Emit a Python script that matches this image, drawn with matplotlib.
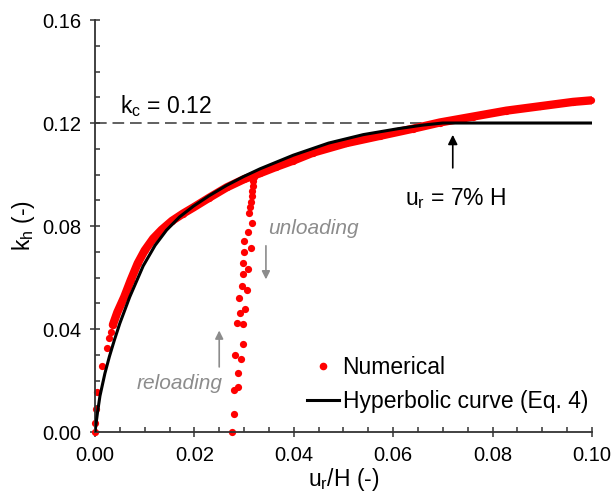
import matplotlib
matplotlib.use('Agg')
import matplotlib.pyplot as plt
from matplotlib.lines import Line2D

plt.rcParams['font.family'] = ['Liberation Sans', 'DejaVu Sans']

# hyperbolic curve (Eq. 4)
hyp_x = [0, 0.0005, 0.001, 0.002, 0.0029, 0.0039, 0.005, 0.007, 0.0097, 0.0121, 0.0144,
         0.017, 0.0198, 0.023, 0.0265, 0.030, 0.0332, 0.0399, 0.047, 0.054, 0.061, 0.066, 0.07, 0.10]
hyp_k = [0, 0.0075, 0.014, 0.0228, 0.0293, 0.0357, 0.0422, 0.0525, 0.0645, 0.0725, 0.0784,
         0.0835, 0.0877, 0.0918, 0.0958, 0.0993, 0.1022, 0.1075, 0.1122, 0.1155, 0.1178, 0.1192, 0.12, 0.12]

# numerical results: first sparse points, dense loading band, unloading/reloading loop
start_x = [0, 0, 0.0002, 0.0005, 0.0015, 0.0025, 0.0029, 0.0032]
start_k = [0, 0.0034, 0.0088, 0.0155, 0.0257, 0.0327, 0.0365, 0.039]

band_x = [0.0036, 0.0045, 0.0059, 0.0072, 0.0086, 0.010, 0.0117, 0.0134, 0.0155, 0.0177,
          0.0198, 0.023, 0.0265, 0.030, 0.0332, 0.0365, 0.0399, 0.0439, 0.0506, 0.0573,
          0.064, 0.0694, 0.0761, 0.0828, 0.0895, 0.0962, 0.0999]
band_k = [0.0416, 0.0465, 0.0525, 0.059, 0.0655, 0.0705, 0.0751, 0.0785, 0.082, 0.0848,
          0.0872, 0.091, 0.095, 0.0982, 0.1005, 0.103, 0.1054, 0.1085, 0.1122, 0.115,
          0.1178, 0.1202, 0.1225, 0.1248, 0.1265, 0.1282, 0.1288]

loop_x = [0.0275, 0.028, 0.0279, 0.0287, 0.0288, 0.0282, 0.0293, 0.0297, 0.0286, 0.0297,
          0.0292, 0.0301, 0.029, 0.0295, 0.0305, 0.0298, 0.0308, 0.0298, 0.030, 0.0313,
          0.030, 0.0307, 0.0315, 0.031, 0.0312, 0.0313, 0.0315, 0.0316, 0.0318, 0.0318, 0.032]
loop_k = [0.0, 0.0069, 0.0165, 0.0174, 0.0228, 0.030, 0.0282, 0.0342, 0.0422, 0.0418,
          0.0463, 0.0476, 0.0522, 0.0567, 0.0551, 0.0614, 0.0632, 0.0657, 0.070, 0.0716,
          0.0742, 0.0777, 0.0813, 0.0849, 0.0875, 0.0895, 0.0915, 0.0935, 0.0955, 0.0975, 0.099]

kc = 0.12
ur_kc = 0.07

fig = plt.figure(figsize=(6.14, 4.98), dpi=100)
ax = fig.add_axes([0.1547, 0.1325, 0.8093, 0.8273])

red = '#ff0000'
ax.plot(band_x, band_k, color=red, lw=6, solid_capstyle='round', zorder=2)
ax.plot(start_x + band_x + loop_x, start_k + band_k + loop_k, 'o', color=red, ms=5.2,
        mec='none', clip_on=False, zorder=2)
ax.plot(hyp_x, hyp_k, color='black', lw=2.2, zorder=3)
ax.hlines(kc, 0, ur_kc, colors='#606060', linestyles=(0, (6, 3)), lw=1.4, zorder=1)

ax.text(0.005, 0.1217, r'k$_\mathregular{c}$ = 0.12', fontsize=16.5, va='bottom')
ax.annotate('', xy=(0.072, 0.1165), xytext=(0.072, 0.1015),
            arrowprops=dict(arrowstyle='-|>', color='black', lw=1.2, mutation_scale=14))
ax.text(0.0725, 0.0905, r'u$_\mathregular{r}$ = 7% H', fontsize=16.5, ha='center', va='center')

gray = '#8c8c8c'
ax.text(0.0348, 0.0792, 'unloading', fontsize=15, style='italic', color=gray, va='center')
ax.annotate('', xy=(0.0344, 0.0582), xytext=(0.0344, 0.0734),
            arrowprops=dict(arrowstyle='-|>', color=gray, lw=1.2, mutation_scale=12))
ax.text(0.0256, 0.019, 'reloading', fontsize=15, style='italic', color=gray,
        ha='right', va='center')
ax.annotate('', xy=(0.025, 0.0405), xytext=(0.025, 0.0242),
            arrowprops=dict(arrowstyle='-|>', color=gray, lw=1.2, mutation_scale=12))

handles = [Line2D([], [], marker='o', ls='none', color=red, ms=5.5, mec='none'),
           Line2D([], [], color='black', lw=2.2)]
ax.legend(handles, ['Numerical', 'Hyperbolic curve (Eq. 4)'], loc='lower right',
          bbox_to_anchor=(1.015, 0.018), frameon=False, fontsize=16.5,
          handlelength=1.4, handletextpad=0.15, labelspacing=0.5, borderpad=0)

ax.set_xlim(0, 0.10)
ax.set_ylim(0, 0.16)
ax.set_xticks([0, 0.02, 0.04, 0.06, 0.08, 0.10])
ax.set_yticks([0, 0.04, 0.08, 0.12, 0.16])
ax.set_xticklabels(['0.00', '0.02', '0.04', '0.06', '0.08', '0.10'])
ax.set_yticklabels(['0.00', '0.04', '0.08', '0.12', '0.16'])
ax.set_xticks([0.005, 0.01, 0.015, 0.025, 0.03, 0.035, 0.045, 0.05, 0.055,
               0.065, 0.07, 0.075, 0.085, 0.09, 0.095], minor=True)
ax.set_yticks([0.01, 0.02, 0.03, 0.05, 0.06, 0.07, 0.09, 0.10, 0.11, 0.13, 0.14, 0.15], minor=True)
ax.tick_params(which='major', direction='inout', length=7.5, width=1.1, labelsize=14.5,
               pad=6, color='#333333')
ax.tick_params(which='minor', direction='in', length=3.6, width=1.1, color='#333333')
for s in ['top', 'right']:
    ax.spines[s].set_visible(False)
for s in ['left', 'bottom']:
    ax.spines[s].set_linewidth(1.3)
    ax.spines[s].set_color('#333333')

ax.set_xlabel(r'u$_\mathregular{r}$/H (-)', fontsize=16.5, labelpad=1)
ax.set_ylabel(r'k$_\mathregular{h}$ (-)', fontsize=16.5, labelpad=4)

plt.savefig('out.png', dpi=100)
